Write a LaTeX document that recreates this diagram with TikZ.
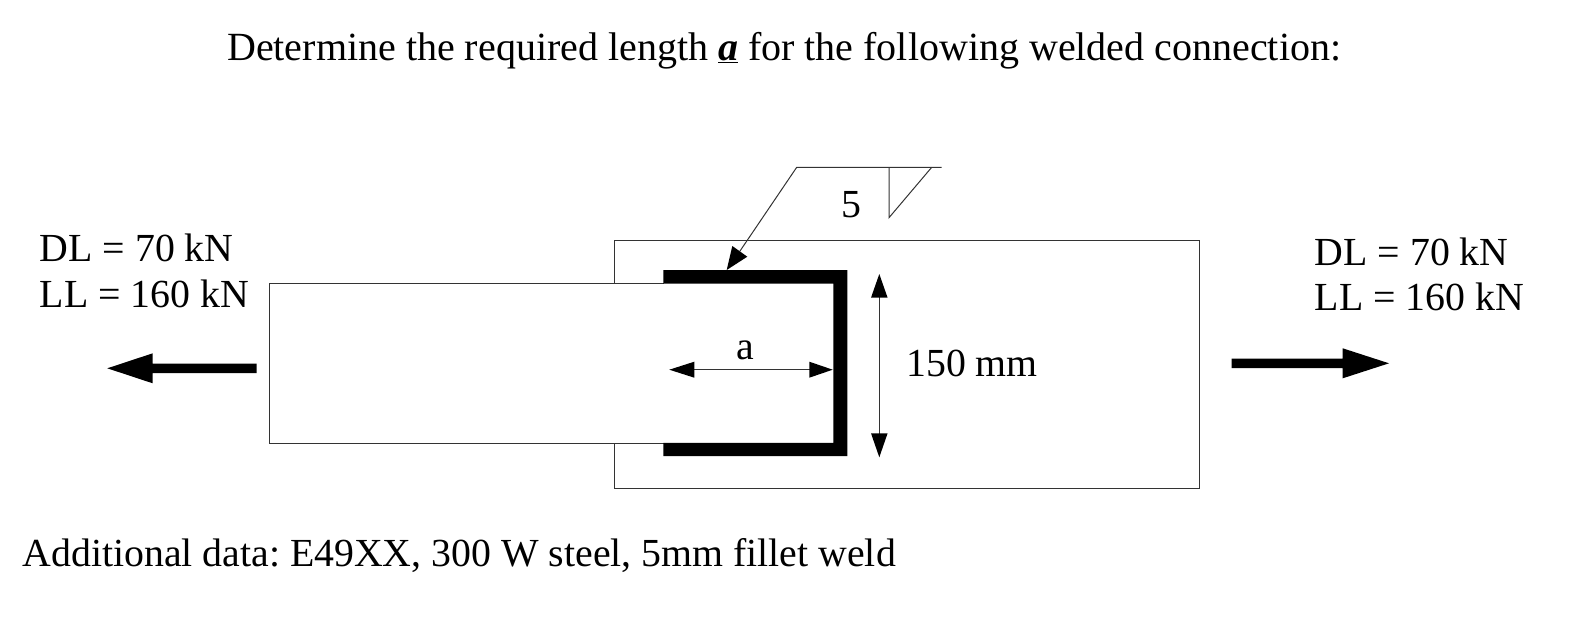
\documentclass[tikz,border=0pt]{standalone}
\usepackage{fontspec}
\setmainfont{Liberation Serif}
\frenchspacing
\begin{document}
\begin{tikzpicture}[x=1pt,y=-1pt,
  thin line/.style={draw=black!80,line width=1pt},
  weld/.style={draw=none,fill=black},
  solid arrow/.style={draw=none,fill=black},
  label/.style={inner sep=0pt,anchor=base west,font=\fontsize{39.8}{40}\selectfont},
  title text/.style={inner sep=0pt,anchor=base west,font=\fontsize{40}{40}\selectfont}]
\useasboundingbox (0,0) rectangle (1580,634);
\node[title text] (title) at (227,60.7) {Determine the required length \underline{\textbf{\textit{a}}} for the following welded connection:};
% right plate
\coordinate (pa) at (614,283);
\coordinate (pb) at (614,240.5);
\coordinate (pc) at (1199.5,240.5);
\coordinate (pd) at (1199.5,488.3);
\coordinate (pe) at (614,488.3);
\coordinate (pf) at (614,443);
\draw[thin line] (pa) -- (pb) -- (pc) -- (pd) -- (pe) -- (pf);
% left plate
\coordinate (la) at (664,283);
\coordinate (lb) at (269.5,283);
\coordinate (lc) at (269.5,443);
\coordinate (ld) at (664,443);
\draw[thin line] (la) -- (lb) -- (lc) -- (ld);
% weld
\fill[weld] (663.3,270) -- (847.3,270) -- (847.3,456) -- (663.3,456) -- (663.3,442.8) -- (833.3,442.8) -- (833.3,283.5) -- (663.3,283.5) -- cycle;
% weld symbol
\coordinate (s0) at (726.7,270);
\coordinate (s1) at (796.7,167.3);
\coordinate (s2) at (941.7,167.3);
\coordinate (t1) at (889,167.3);
\coordinate (t2) at (889,217.7);
\coordinate (t3) at (931.7,167.3);
\draw[thin line] (739.8,251.3) -- (s1) -- (s2);
\draw[thin line] (t1) -- (t2) -- (t3);
\fill[solid arrow] (s0) -- (732.3,246) -- (747.3,256.7) -- cycle;
\node[label] (five) at (841,217.7) {5};
% a dimension
\coordinate (a1) at (669.3,369.7);
\coordinate (a2) at (832.7,369.7);
\draw[thin line] (694,369.7) -- (810,369.7);
\fill[solid arrow] (a1) -- (694.3,361.7) -- (694.3,377.7) -- cycle;
\fill[solid arrow] (a2) -- (809.3,361.7) -- (809.3,377.7) -- cycle;
\node[label] (adim) at (736.2,359.3) {a};
% 150 dimension
\coordinate (b1) at (879.3,274);
\coordinate (b2) at (879.3,457.3);
\draw[thin line] (879.3,297) -- (879.3,434);
\fill[solid arrow] (b1) -- (871,297.7) -- (887.6,297.7) -- cycle;
\fill[solid arrow] (b2) -- (871,433.3) -- (887.6,433.3) -- cycle;
\node[label] (dim) at (906,376.7) {150 mm};
% loads
\fill[solid arrow] (107.3,368.3) -- (152.7,353.3) -- (152.7,363.5) -- (256.7,363.5) -- (256.7,373.2) -- (152.7,373.2) -- (152.7,383.3) -- cycle;
\fill[solid arrow] (1389,363.3) -- (1342.7,348.3) -- (1342.7,358.5) -- (1231.7,358.5) -- (1231.7,368) -- (1342.7,368) -- (1342.7,378.3) -- cycle;
\node[label] (dl1) at (39.5,261) {DL = 70 kN};
\node[label] (ll1) at (39.5,307.3) {LL = 160 kN};
\node[label] (dl2) at (1314.5,265) {DL = 70 kN};
\node[label] (ll2) at (1314.5,310.7) {LL = 160 kN};
\node[label] (extra) at (22.4,566.7) {Additional data: E49XX, 300 W steel, 5mm fillet weld};
\end{tikzpicture}
\end{document}
